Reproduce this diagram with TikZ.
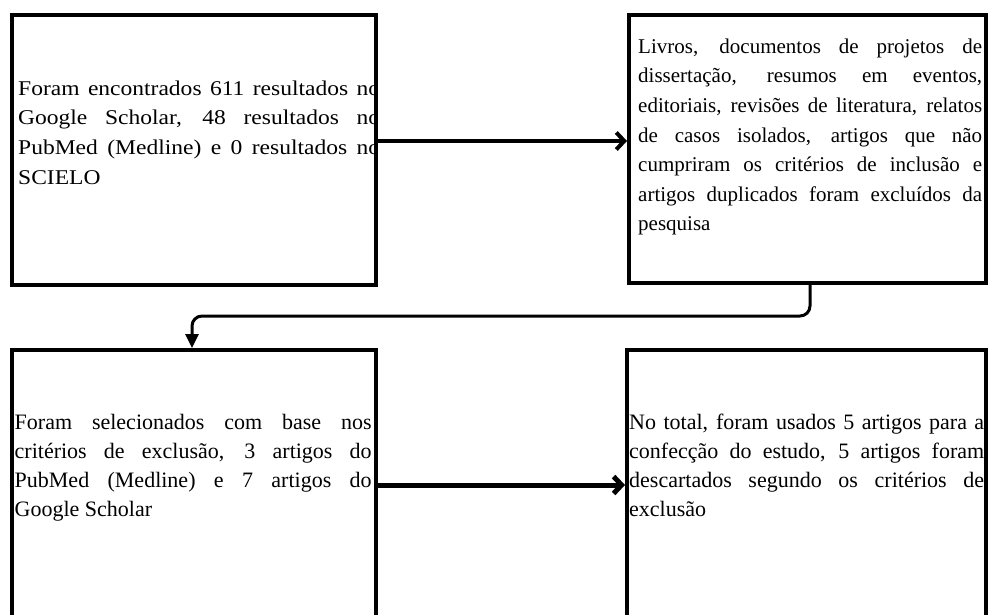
\documentclass[tikz,border=0pt]{standalone}
\usepackage{fontspec}
\setmainfont{Liberation Serif}
\newfontfamily\widefont[FakeStretch=1.12]{Liberation Serif}
\usetikzlibrary{arrows.meta}
\newcommand\parprep{\tolerance=10000\hyphenpenalty=10000\emergencystretch=0pt\strut}
\begin{document}
\begin{tikzpicture}[x=1pt,y=-1pt,
  box/.style={draw=black, line width=4pt, inner sep=0pt},
  txt/.style={anchor=north west, inner sep=0pt, align=justify},
  fa/.style={font=\fontsize{21}{29.6}\selectfont},
  fw/.style={font=\widefont\fontsize{21}{29.6}\selectfont},
  fb/.style={font=\fontsize{22}{29.2}\selectfont},
  conn/.style={line width=4pt, -{Straight Barb[length=8pt,width=17pt]}},
  elbow/.style={line width=3pt, rounded corners=10pt, -{Triangle[length=14pt,width=13pt]}},
]
\useasboundingbox (0,0) rectangle (990,614);
\clip (0,0) rectangle (990,614);

% box texts
\begin{scope}
\clip (14,17) rectangle (374,283);
\node[txt, fw, text width=362pt] (t1) at (18,74.3) {\parprep Foram encontrados 611 resultados no\linebreak Google Scholar, 48 resultados no\linebreak PubMed (Medline) e 0 resultados no\linebreak SCIELO};
\end{scope}
\node[txt, fa, text width=344pt] (t2) at (638,32.3) {\parprep Livros, documentos de projetos de\linebreak dissertação, resumos em eventos,\linebreak editoriais, revisões de literatura, relatos\linebreak de casos isolados, artigos que não\linebreak cumpriram os critérios de inclusão e\linebreak artigos duplicados foram excluídos da\linebreak pesquisa};
\node[txt, fb, text width=357pt, anchor=base west] (t3) at (14.5,429) {\parprep Foram selecionados com base nos\linebreak critérios de exclusão, 3 artigos do\linebreak PubMed (Medline) e 7 artigos do\linebreak Google Scholar};
\node[txt, fb, text width=355pt, anchor=base west] (t4) at (629,429) {\parprep No total, foram usados 5 artigos para a\linebreak confecção do estudo, 5 artigos foram\linebreak descartados segundo os critérios de\linebreak exclusão};

% boxes
\node[box, minimum width=364pt, minimum height=270pt] (b1) at (194,150) {};
\node[box, minimum width=357pt, minimum height=268pt] (b2) at (807.5,149) {};
\node[box, minimum width=364pt, minimum height=300pt] (b3) at (194,500) {};
\node[box, minimum width=359pt, minimum height=300pt] (b4) at (806.5,500) {};

% connectors
\coordinate (a1) at (0,141);
\coordinate (a3) at (0,485);
\coordinate (e1) at (810,316);
\coordinate (e2) at (192,316);
\draw[conn] (b1.east |- a1) -- (b2.west |- a1);
\draw[conn, line width=5pt] (b3.east |- a3) -- (b4.west |- a3);
\draw[elbow] (b2.south -| e1) -- (e1) -- (e2) -- (b3.north -| e2);
\end{tikzpicture}
\end{document}
